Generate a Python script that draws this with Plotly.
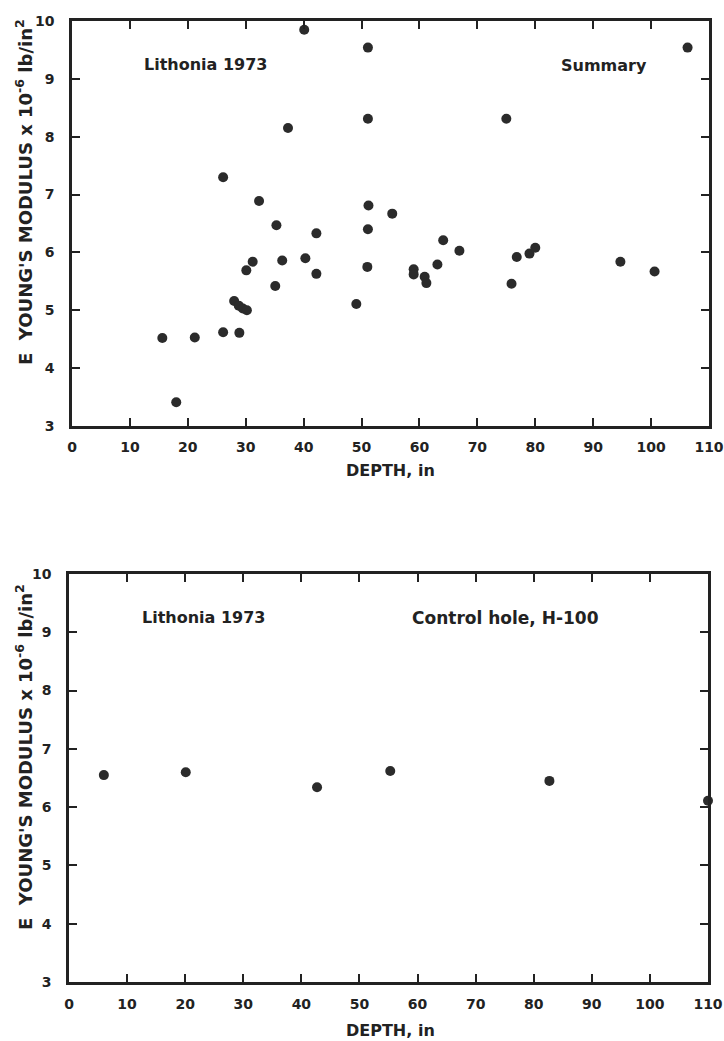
import plotly.graph_objects as go

# Summary panel (Lithonia 1973)
summary_depth = [15.6, 18.0, 21.2, 26.1, 26.1, 28.0, 28.9, 28.8, 29.5, 30.2,
                 30.1, 31.2, 32.3, 35.1, 35.3, 36.3, 37.3, 40.1, 40.3, 42.2,
                 42.2, 49.1, 51.1, 51.1, 51.2, 51.1, 51.0, 55.3, 59.0, 59.0,
                 60.9, 61.2, 63.1, 64.1, 66.9, 75.0, 75.9, 76.8, 79.0, 80.0,
                 94.7, 100.6, 106.3]
summary_modulus = [4.52, 3.41, 4.53, 4.62, 7.30, 5.16, 4.61, 5.08, 5.03, 5.00,
                   5.69, 5.84, 6.89, 5.42, 6.47, 5.86, 8.15, 9.85, 5.90, 6.33,
                   5.63, 5.11, 9.54, 8.31, 6.81, 6.40, 5.75, 6.67, 5.71, 5.62,
                   5.58, 5.47, 5.79, 6.21, 6.03, 8.31, 5.46, 5.92, 5.98, 6.08,
                   5.84, 5.67, 9.54]

# Control hole panel
control_depth = [6.0, 20.1, 42.7, 55.3, 82.7, 110.0]
control_modulus = [6.55, 6.60, 6.34, 6.62, 6.45, 6.11]

x_ticks = list(range(0, 111, 10))
y_ticks = list(range(3, 11))

INK = "#222222"
FONT = "DejaVu Sans"
W, H = 724, 1041

fig = go.Figure()
marker = dict(size=10, color="#2b2b2b", line=dict(width=0))
fig.add_trace(go.Scatter(x=summary_depth, y=summary_modulus, mode="markers",
                         marker=marker, xaxis="x", yaxis="y", cliponaxis=False,
                         showlegend=False))
fig.add_trace(go.Scatter(x=control_depth, y=control_modulus, mode="markers",
                         marker=marker, xaxis="x2", yaxis="y2", cliponaxis=False,
                         showlegend=False))

tickfont = dict(family=FONT, size=14, color=INK, weight="bold")
common = dict(showgrid=False, zeroline=False, showline=True, linecolor=INK,
              linewidth=2.5, ticks="inside", ticklen=8, tickwidth=2,
              tickcolor=INK, mirror="ticks", tickfont=tickfont, automargin=False,
              ticklabeloverflow="allow")

fig.update_layout(
    width=W, height=H, margin=dict(l=0, r=0, t=0, b=0),
    paper_bgcolor="white", plot_bgcolor="white",
    xaxis=dict(domain=[72 / W, 709 / W], anchor="y", range=[0, 110],
               tickvals=x_ticks, ticklabelstandoff=6, **common),
    yaxis=dict(domain=[1 - 426 / H, 1 - 21 / H], anchor="x", range=[3, 10],
               tickvals=y_ticks, ticklabelstandoff=12, **common),
    xaxis2=dict(domain=[69 / W, 708 / W], anchor="y2", range=[0, 110],
                tickvals=x_ticks, ticklabelstandoff=7, **common),
    yaxis2=dict(domain=[1 - 982 / H, 1 - 574 / H], anchor="x2", range=[3, 10],
                tickvals=y_ticks, ticklabelstandoff=12, **common),
)

lab = dict(family=FONT, size=16, color=INK, weight="bold")
ytfont = dict(family=FONT, size=18, color=INK, weight="bold")
ytitle = "E  YOUNG'S MODULUS x 10<sup>-6</sup> lb/in<sup>2</sup>"
c = dict(showarrow=False, xanchor="center", yanchor="middle")
ann = [
    dict(text="Lithonia 1973", x=23.1, y=9.25, xref="x", yref="y", font=lab, **c),
    dict(text="Summary", x=91.9, y=9.23, xref="x", yref="y", font=lab, **c),
    dict(text="Lithonia 1973", x=23.2, y=9.26, xref="x2", yref="y2", font=lab, **c),
    dict(text="Control hole, H-100", x=75.1, y=9.24, xref="x2", yref="y2",
         font=dict(family=FONT, size=17, color=INK, weight="bold"), **c),
    dict(text="DEPTH, in", x=390 / W, y=1 - 470 / H, xref="paper", yref="paper",
         font=lab, **c),
    dict(text="DEPTH, in", x=390 / W, y=1 - 1030 / H, xref="paper", yref="paper",
         font=lab, **c),
    dict(text=ytitle, textangle=-90, x=24 / W, y=1 - 192 / H, xref="paper", yref="paper",
         font=ytfont, **c),
    dict(text=ytitle, textangle=-90, x=24 / W, y=1 - 757 / H, xref="paper", yref="paper",
         font=ytfont, **c),
]
fig.update_layout(annotations=ann)

fig.write_html("out.html")
